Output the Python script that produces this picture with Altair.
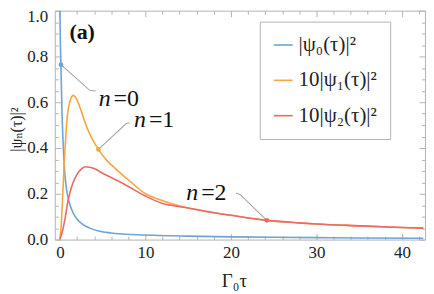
import altair as alt
import pandas as pd

# ---------------- data ----------------
series_names = ["|ψ₀(τ)|²", "10|ψ₁(τ)|²", "10|ψ₂(τ)|²"]
series_colors = ["#6FA3D5", "#F6A543", "#EA6A66"]

psi0_x = [0.0, 0.05, 0.12, 0.25, 0.39, 0.55, 0.77, 1.0, 1.55, 2.0, 2.7, 3.5,
          4.65, 6.0, 8.5, 11.6, 15.0, 20.0, 25.0, 30.0, 35.0, 42.5]
psi0_y = [1.0, 0.87, 0.76, 0.55, 0.41, 0.30, 0.22, 0.175, 0.116, 0.09, 0.065, 0.05,
          0.036, 0.029, 0.022, 0.018, 0.015, 0.012, 0.010, 0.0085, 0.007, 0.006]

psi1_x = [0.0, 0.15, 0.3, 0.5, 0.7, 0.9, 1.15, 1.55, 2.0, 2.5, 3.0, 3.7, 4.5,
          5.5, 6.5, 8.5, 10.0, 11.6, 13.0, 15.0, 18.2, 20.0, 24.2, 27.9, 30.0,
          35.0, 40.0, 42.5]
psi1_y = [0.0, 0.06, 0.17, 0.33, 0.46, 0.55, 0.60, 0.63, 0.61, 0.56, 0.505, 0.445, 0.394,
          0.345, 0.31, 0.245, 0.2, 0.175, 0.158, 0.138, 0.116, 0.106, 0.084, 0.073, 0.068,
          0.06, 0.053, 0.05]

psi2_x = [0.0, 0.25, 0.58, 0.9, 1.16, 1.5, 2.0, 2.5, 3.0, 3.5, 4.0, 5.0, 6.6, 8.0,
          10.0, 12.0, 13.0, 15.0, 18.2, 20.0, 24.2, 27.9, 30.0, 35.0, 40.0, 42.5]
psi2_y = [0.0, 0.03, 0.087, 0.16, 0.203, 0.245, 0.285, 0.308, 0.318, 0.316, 0.31, 0.29,
          0.26, 0.232, 0.19, 0.158, 0.15, 0.138, 0.116, 0.106, 0.084, 0.073, 0.068,
          0.06, 0.053, 0.05]

# callout points on each curve
marker_x = [0.12, 4.5, 24.2]
marker_y = [0.764, 0.394, 0.084]
callout_labels = ["=0", "=1", "=2"]

x_major = [0, 10, 20, 30, 40]
x_minor = [2, 4, 6, 8, 12, 14, 16, 18, 22, 24, 26, 28, 32, 34, 36, 38, 42]
y_major_low = [0.0, 0.2, 0.4, 0.6, 0.8]
y_top = [1.0]
y_minor = [0.05, 0.1, 0.15, 0.25, 0.3, 0.35, 0.45, 0.5, 0.55, 0.65, 0.7, 0.75,
           0.85, 0.9, 0.95]

# ---------------- tables ----------------
rows = []
for name, xs_, ys_ in zip(series_names, [psi0_x, psi1_x, psi2_x], [psi0_y, psi1_y, psi2_y]):
    for i, (a, b) in enumerate(zip(xs_, ys_)):
        rows.append({"series": name, "x": a, "y": b, "i": i})
curves = pd.DataFrame(rows)

markers = pd.DataFrame({"series": series_names, "x": marker_x, "y": marker_y})

ann = pd.DataFrame({
    "x": [6.16, 10.29, 16.4],
    "y": [0.583, 0.493, 0.174],
    "label": callout_labels,
})
leaders = pd.DataFrame({
    "g": [0, 0, 0, 1, 1, 1, 2, 2, 2],
    "o": [0, 1, 2] * 3,
    "x": [marker_x[0], 3.49, 4.19, marker_x[1], 7.76, 8.14, marker_x[2], 21.1, 20.6],
    "y": [marker_y[0], 0.652, 0.649, marker_y[1], 0.507, 0.51, marker_y[2], 0.196, 0.203],
})
panel = pd.DataFrame({"x": [2.6], "y": [0.878], "t": ["(a)"]})
dummy = pd.DataFrame({"x": [0.0, 40.0], "y": [0.0, 1.0]})

SERIF = "'Liberation Serif', 'DejaVu Serif Condensed', 'DejaVu Serif', serif"
FRAME = "#b3b3b3"
INK = "#222222"

xs = alt.Scale(domain=[-0.6, 42.7], nice=False, zero=False)
ys = alt.Scale(domain=[0, 1.0], nice=False)
cs = alt.Scale(domain=series_names, range=series_colors)

main_x_axis = alt.Axis(orient="bottom", values=x_major, ticks=False, domain=False, grid=False,
                       labelFont=SERIF, labelFontSize=17, labelColor=INK,
                       labelPadding=5, title="Γ₀τ", titleFont=SERIF,
                       titleFontSize=19, titleFontWeight="normal", titleColor=INK,
                       titleX=180, titleY=47, titleBaseline="alphabetic")
main_y_axis = alt.Axis(orient="left", values=y_major_low, format=".1f", ticks=False,
                       domain=False, grid=False, labelFont=SERIF, labelFontSize=17,
                       labelColor=INK, labelPadding=7, title="|ψₙ(τ)|²",
                       titleFont=SERIF, titleFontSize=16, titleFontWeight="normal",
                       titleColor=INK, titleAngle=270, titleX=-38, titleY=119,
                       titleAlign="center", titleBaseline="middle")

lines = alt.Chart(curves).mark_line(strokeWidth=1.6, clip=True, interpolate="monotone").encode(
    x=alt.X("x:Q", scale=xs, axis=main_x_axis),
    y=alt.Y("y:Q", scale=ys, axis=main_y_axis),
    color=alt.Color("series:N", scale=cs, sort=series_names,
                    legend=alt.Legend(title=None, orient="none", legendX=206, legendY=11,
                                      fillColor="white", strokeColor=FRAME, padding=13,
                                      rowPadding=13.5, labelFont=SERIF, labelFontSize=21,
                                      labelColor=INK, symbolType="stroke",
                                      symbolStrokeWidth=1.6, symbolSize=361,
                                      labelOffset=5)),
    detail="series:N",
    order="i:Q",
)

leader_lines = alt.Chart(leaders).mark_line(color="#a6a6a6", strokeWidth=1.1).encode(
    x=alt.X("x:Q", scale=xs, axis=None),
    y=alt.Y("y:Q", scale=ys, axis=None),
    detail="g:N",
    order="o:Q",
)

dots = alt.Chart(markers).mark_point(filled=True, size=22, opacity=1).encode(
    x=alt.X("x:Q", scale=xs, axis=None),
    y=alt.Y("y:Q", scale=ys, axis=None),
    color=alt.Color("series:N", scale=cs, legend=None),
)

n_text = alt.Chart(ann).mark_text(text="n", font=SERIF, fontStyle="italic", fontSize=24,
                                  align="right", baseline="alphabetic", dx=-2,
                                  color="#111").encode(
    x=alt.X("x:Q", scale=xs, axis=None), y=alt.Y("y:Q", scale=ys, axis=None))
num_text = alt.Chart(ann).mark_text(font=SERIF, fontSize=24, align="left",
                                    baseline="alphabetic", dx=1, color="#111").encode(
    x=alt.X("x:Q", scale=xs, axis=None), y=alt.Y("y:Q", scale=ys, axis=None),
    text="label:N")
panel_text = alt.Chart(panel).mark_text(font=SERIF, fontSize=22, fontWeight="bold",
                                        align="center", baseline="alphabetic",
                                        color="#111").encode(
    x=alt.X("x:Q", scale=xs, axis=None), y=alt.Y("y:Q", scale=ys, axis=None),
    text="t:N")


def tick_layer(xorient, yorient, xvals, yvals, size):
    common = dict(labels=False, domain=False, grid=False, title=None, ticks=True,
                  tickColor=FRAME, tickWidth=1, tickSize=size, offset=-size)
    return alt.Chart(dummy).mark_point(opacity=0).encode(
        x=alt.X("x:Q", scale=xs, axis=alt.Axis(orient=xorient, values=xvals, **common)),
        y=alt.Y("y:Q", scale=ys, axis=alt.Axis(orient=yorient, values=yvals, **common)),
    )


ticks = [
    tick_layer("bottom", "left", x_major, y_major_low + y_top, 6),
    tick_layer("bottom", "left", x_minor, y_minor, 3.5),
    tick_layer("top", "right", x_major, y_major_low + y_top, 6),
    tick_layer("top", "right", x_minor, y_minor, 3.5),
]

top_label = alt.Chart(dummy).mark_point(opacity=0).encode(
    y=alt.Y("y:Q", scale=ys, axis=alt.Axis(orient="left", values=y_top, format=".1f",
                                          ticks=False, domain=False, grid=False,
                                          title=None, labelFont=SERIF, labelFontSize=17,
                                          labelColor=INK, labelPadding=7,
                                          labelBaseline="top", labelOffset=-2)),
)

chart = alt.layer(
    *ticks, top_label, leader_lines, lines, dots, n_text, num_text, panel_text
).resolve_axis(x="independent", y="independent").properties(
    width=372, height=230,
    padding={"left": 47, "top": 2, "right": 1, "bottom": 54},
    autosize=alt.AutoSizeParams(type="none"),
    background="white",
).configure_view(stroke=FRAME, strokeWidth=1)

chart.save("out.html", embed_options={"renderer": "svg", "actions": False})
